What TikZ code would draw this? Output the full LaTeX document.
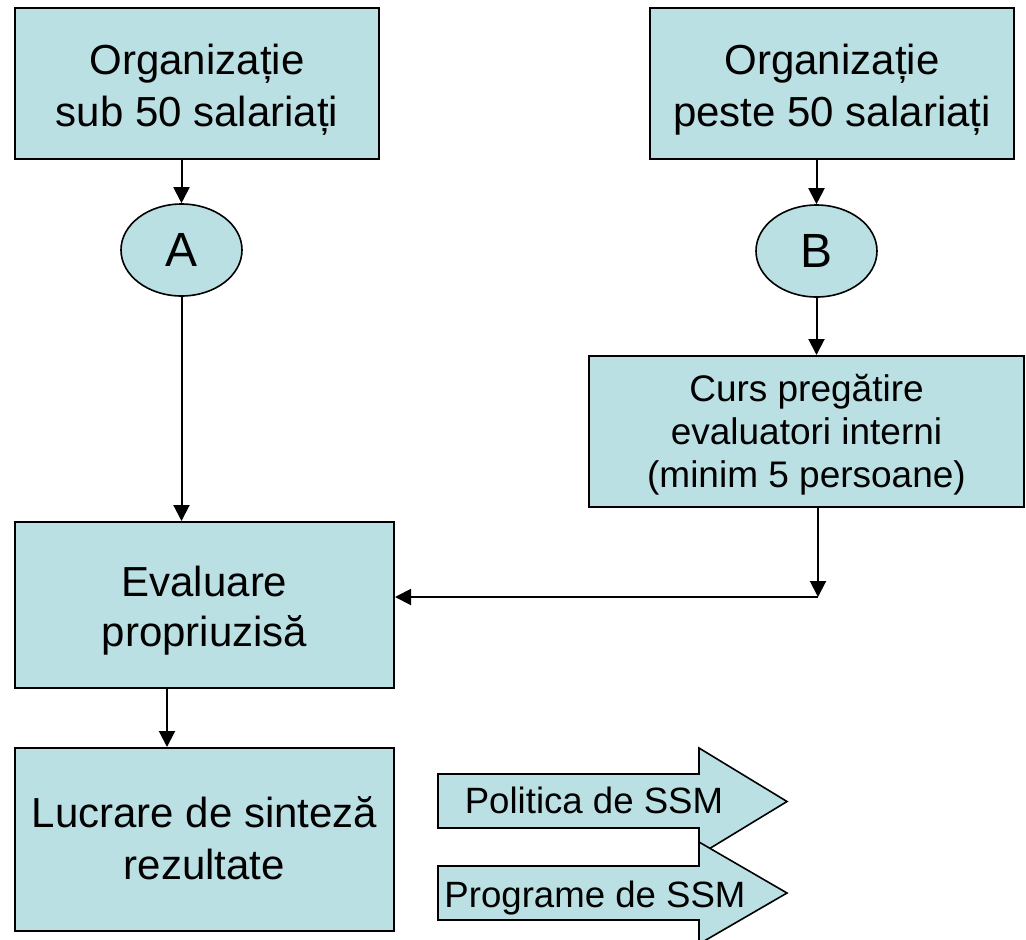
\documentclass[tikz,border=0pt]{standalone}
\usepackage{fontspec}
\setmainfont{Liberation Sans}
\usetikzlibrary{arrows.meta,shapes.geometric}
\definecolor{boxfill}{RGB}{186,224,227}
\begin{document}
\begin{tikzpicture}[x=1pt,y=1pt,
  box/.style={draw=black,line width=2pt,fill=boxfill,inner sep=0pt},
  oval/.style={ellipse,draw=black,line width=1.6pt,fill=boxfill,inner sep=0pt,
    minimum width=121pt,minimum height=92pt,font=\fontsize{48}{56}\selectfont},
  arr/.style={line width=2pt,-{Triangle[length=16pt,width=16pt]}},
  bigtext/.style={font=\fontsize{42}{52}\selectfont,align=center,inner sep=0pt},
  evaltext/.style={font=\fontsize{42}{50}\selectfont,align=center,inner sep=0pt},
  midtext/.style={font=\fontsize{37}{43}\selectfont,align=center,inner sep=0pt},
  arrowtext/.style={font=\fontsize{36.6}{43}\selectfont,anchor=base,inner sep=0pt},
  blockarrow/.style={draw=black,line width=1.6pt,fill=boxfill}
]
\useasboundingbox (0,0) rectangle (1026,-940);
\clip (0,0) rectangle (1026,-940);

% boxes
\node[box,minimum width=364pt,minimum height=151pt] (o1) at (197,-83.5) {};
\node[bigtext] (o1t) at ([yshift=-6pt]o1.center) {Organizație\\sub 50 salariați};
\node[box,minimum width=364pt,minimum height=151pt] (o2) at (832,-83.5) {};
\node[bigtext] (o2t) at ([yshift=-6pt]o2.center) {Organizație\\peste 50 salariați};
\node[oval] (A) at (181.5,-250) {A};
\node[oval] (B) at (816.5,-251) {B};
\node[box,minimum width=435pt,minimum height=151pt] (curs) at (806.5,-431.5) {};
\node[midtext] (curst) at ([yshift=-3.5pt]curs.center)
  {Curs pregătire\\evaluatori interni\\(minim 5 persoane)};
\node[box,minimum width=379pt,minimum height=166pt] (eval) at (204.5,-605) {};
\node[evaltext] (evalt) at ([yshift=-6pt]eval.center) {Evaluare\\propriuzisă};
\node[box,minimum width=379pt,minimum height=183pt] (lucr) at (204.5,-839.5) {};
\node[bigtext] (lucrt) at ([yshift=1pt]lucr.center) {Lucrare de sinteză\\rezultate};

\coordinate (j) at (818,-597);
\coordinate (es) at (167,-688);

% connectors
\draw[arr] (A |- o1.south) -- (A.north);
\draw[arr] (A.south) -- (A.south |- eval.north);
\draw[arr] (B |- o2.south) -- (B.north);
\draw[arr] (B.south) -- (B.south |- curs.north);
\draw[arr] (j |- curs.south) -- (j);
\draw[arr] (j) -- (eval.east |- j);
\draw[arr] (es) -- (es |- lucr.north);

% block arrows
\draw[blockarrow] (438,-774) -- (699,-774) -- (699,-748) -- (787,-801.5)
  -- (699,-855) -- (699,-828) -- (438,-828) -- cycle;
\node[arrowtext] (pol) at (594,-813) {Politica de SSM};
\draw[blockarrow] (438,-866) -- (699,-866) -- (699,-842) -- (787,-893)
  -- (699,-944) -- (699,-920) -- (438,-920) -- cycle;
\node[arrowtext] (prog) at (595,-907) {Programe de SSM};
\end{tikzpicture}
\end{document}
